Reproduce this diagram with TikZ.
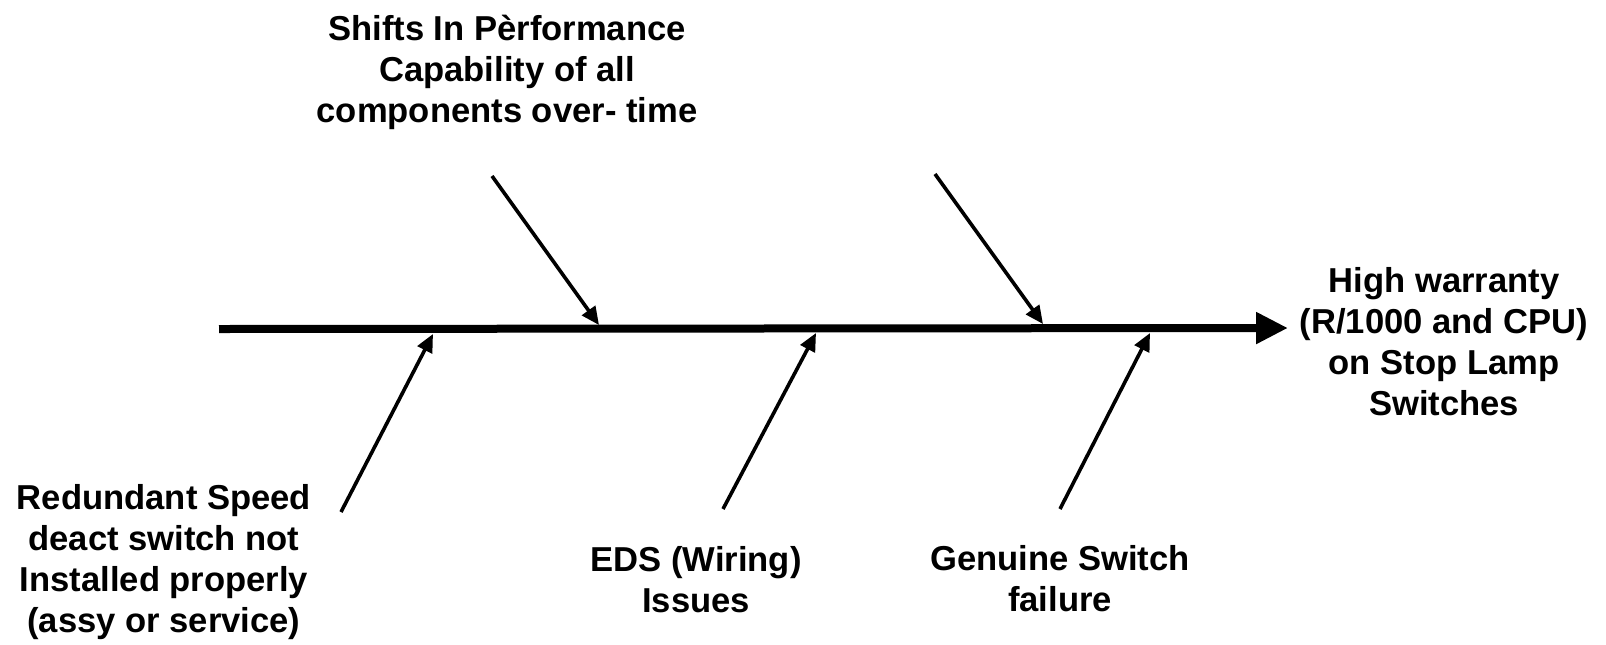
\documentclass[tikz,border=0pt]{standalone}
\usepackage{fontspec}
\setmainfont{Liberation Sans}
\usetikzlibrary{arrows.meta}
\begin{document}
\begin{tikzpicture}[x=0.5pt,y=-0.5pt,
  lbl/.style={align=center,font=\fontsize{17.3}{20.5}\selectfont\bfseries,inner sep=0pt},
  spine/.style={line width=4pt,-{Triangle[length=16pt,width=15pt]}},
  bone/.style={line width=1.8pt,-{Triangle[length=9pt,width=8pt]}}]
\useasboundingbox (0,0) rectangle (1606,644);
% spine
\coordinate (tail) at (219,329);
\node[lbl] (effect) at (1444,342) {High warranty\\(R/1000 and CPU)\\on Stop Lamp\\Switches};
\coordinate (head) at (1288,328);
\draw[spine] (tail) -- (head);
% labels
\node[lbl] (top) at (507,72) {Shifts In Pèrformance\\Capability of all\\components over- time};
\node[lbl] (bl) at (164,562) {Redundant Speed\\deact switch not\\Installed properly\\(assy or service)};
\node[lbl] (bm) at (696,580) {EDS (Wiring)\\Issues};
\node[lbl] (br) at (1060,579) {Genuine Switch\\failure};
% bone ends
\coordinate (u1s) at (492,176); \coordinate (u1e) at (599,325);
\coordinate (u2s) at (935,174); \coordinate (u2e) at (1043,324);
\coordinate (l1s) at (341,512); \coordinate (l1e) at (433,334);
\coordinate (l2s) at (723,509); \coordinate (l2e) at (816,333);
\coordinate (l3s) at (1060,509); \coordinate (l3e) at (1150,333);
\draw[bone] (u1s) -- (u1e);
\draw[bone] (u2s) -- (u2e);
\draw[bone] (l1s) -- (l1e);
\draw[bone] (l2s) -- (l2e);
\draw[bone] (l3s) -- (l3e);
\end{tikzpicture}
\end{document}
